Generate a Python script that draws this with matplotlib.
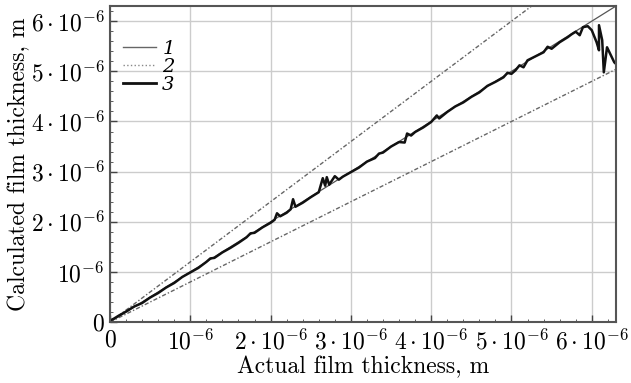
import numpy as np
import matplotlib
matplotlib.use("Agg")
from matplotlib import pyplot as plt
from matplotlib.lines import Line2D
from matplotlib.ticker import MultipleLocator

plt.rcParams['font.family'] = 'cmr10'
plt.rcParams['mathtext.fontset'] = 'cm'
plt.rcParams['axes.unicode_minus'] = False

x_meas = [0.0, 0.05, 0.1, 0.2, 0.3, 0.4, 0.5, 0.6, 0.7, 0.8, 0.9, 1.0, 1.1, 1.2,
          1.25, 1.3, 1.4, 1.5, 1.6, 1.7, 1.75, 1.8, 1.9, 2.0, 2.05, 2.08, 2.12,
          2.2, 2.25, 2.28, 2.31, 2.4, 2.5, 2.6, 2.65, 2.68, 2.7, 2.73, 2.8, 2.85,
          2.9, 3.0, 3.1, 3.2, 3.3, 3.35, 3.4, 3.5, 3.6, 3.67, 3.7, 3.75, 3.8, 3.9, 4.0,
          4.07, 4.1, 4.2, 4.3, 4.4, 4.5, 4.6, 4.7, 4.8, 4.9, 4.95, 5.0, 5.05, 5.1, 5.15,
          5.2, 5.3, 5.4, 5.45, 5.5, 5.6, 5.7, 5.75, 5.8, 5.85, 5.89, 5.95, 6.0, 6.06,
          6.09, 6.09, 6.13, 6.15, 6.19, 6.28, 6.3]
y_meas = [0.03, 0.07, 0.12, 0.21, 0.31, 0.38, 0.49, 0.58, 0.69, 0.78, 0.9, 0.99, 1.08, 1.2,
          1.27, 1.28, 1.39, 1.48, 1.58, 1.69, 1.77, 1.78, 1.89, 1.98, 2.04, 2.17, 2.11,
          2.18, 2.25, 2.45, 2.3, 2.38, 2.49, 2.59, 2.87, 2.72, 2.89, 2.74, 2.91, 2.84,
          2.9, 2.99, 3.08, 3.2, 3.27, 3.36, 3.38, 3.5, 3.59, 3.58, 3.76, 3.72, 3.79, 3.88, 3.99,
          4.12, 4.06, 4.19, 4.3, 4.38, 4.49, 4.58, 4.71, 4.79, 4.88, 4.97, 4.95, 5.02, 5.12, 5.08,
          5.22, 5.3, 5.38, 5.49, 5.45, 5.58, 5.68, 5.74, 5.79, 5.72, 5.88, 5.9, 5.82, 5.58,
          5.42, 5.92, 5.62, 4.98, 5.48, 5.18, 5.15]

# Reference lines: exact value and +-20 % band
x_ref = [0.0, 6.3]
y_exact = [0.0, 6.3]
y_upper = [0.0, 7.56]
y_lower = [0.0, 5.04]

x_ticks = [0, 1, 2, 3, 4, 5, 6]
tick_labels = ['$0$', r'$10^{-6}$', r'$2\cdot10^{-6}$', r'$3\cdot10^{-6}$',
               r'$4\cdot10^{-6}$', r'$5\cdot10^{-6}$', r'$6\cdot10^{-6}$']
legend_labels = ['1', '2', '3']

um = 1e-6
fig = plt.figure(figsize=(6.31, 3.83), dpi=100)
ax = fig.add_axes([0.1743, 0.159, 0.8017, 0.825])

ax.plot(np.array(x_ref) * um, np.array(y_exact) * um, color='#555555', lw=0.9)
ax.plot(np.array(x_ref) * um, np.array(y_upper) * um, color='#666666', lw=1.0,
        ls=(0, (3, 1.5, 1, 1.5)))
ax.plot(np.array(x_ref) * um, np.array(y_lower) * um, color='#666666', lw=1.0,
        ls=(0, (3, 1.5, 1, 1.5)))
ax.plot(np.array(x_meas) * um, np.array(y_meas) * um, color='#111111', lw=1.8)

ax.set_xlim(0, 6.3 * um)
ax.set_ylim(0, 6.3 * um)
ax.set_xticks([t * um for t in x_ticks])
ax.set_yticks([t * um for t in x_ticks])
ax.set_xticklabels(tick_labels)
ax.set_yticklabels(tick_labels)
ax.xaxis.set_minor_locator(MultipleLocator(0.2 * um))
ax.yaxis.set_minor_locator(MultipleLocator(0.2 * um))
ax.tick_params(which='both', direction='in', labelsize=17, colors='#444444', labelcolor='black')
ax.tick_params(which='major', length=5, width=1.0)
ax.tick_params(which='minor', length=2, width=0.6)
ax.tick_params(axis='x', pad=5)
ax.tick_params(axis='y', pad=4)
ax.grid(True, which='major', color='#cccccc', lw=1.0)

for s in ax.spines.values():
    s.set_color('#555555')
    s.set_linewidth(1.5)

ax.set_xlabel('Actual film thickness, m', fontsize=17, labelpad=1)
ax.set_ylabel('Calculated film thickness, m', fontsize=17, labelpad=0)

handles = [Line2D([], [], color='#666666', lw=1.0),
           Line2D([], [], color='#888888', lw=1.0, ls=':'),
           Line2D([], [], color='#111111', lw=2.0)]
ax.legend(handles, legend_labels, loc='upper left', bbox_to_anchor=(-0.012, 0.955),
          frameon=False, prop={'family': 'DejaVu Serif', 'style': 'italic', 'size': 14},
          handlelength=1.7, handletextpad=0.3, labelspacing=0.0, borderaxespad=0.6)

fig.savefig('out.png', dpi=100)
